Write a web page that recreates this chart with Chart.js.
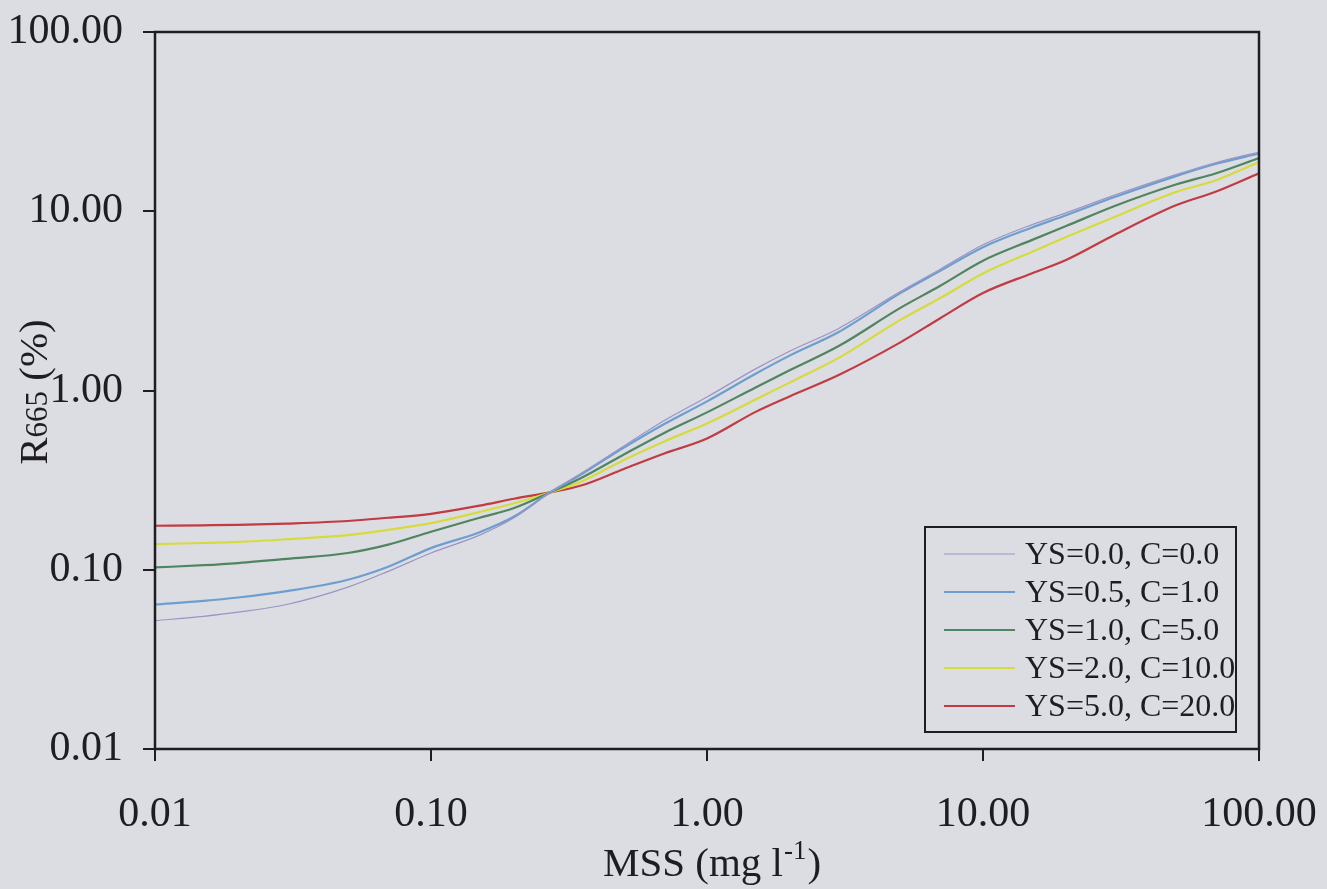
<!DOCTYPE html>
<html>
<head>
<meta charset="utf-8">
<script src="https://cdn.jsdelivr.net/npm/chart.js@4/dist/chart.umd.min.js"></script>
<style>
  html, body { margin: 0; padding: 0; background: #dcdde2; }
  #wrap { width: 1327px; height: 889px; }
</style>
</head>
<body>
<div id="wrap"><canvas id="canvas"></canvas></div>
<script>
// MSS concentration (mg l-1)
const mss = [0.01, 0.015, 0.02, 0.03, 0.05, 0.07, 0.1, 0.15, 0.2, 0.27, 0.35, 0.5, 0.7, 1, 1.5, 2, 3, 5, 7, 10, 15, 20, 30, 50, 70, 100];

// R665 (%) per yellow substance / chlorophyll combination
const ys00c00 = [0.052, 0.055, 0.058, 0.064, 0.080, 0.098, 0.124, 0.156, 0.195, 0.27, 0.345, 0.49, 0.68, 0.92, 1.32, 1.66, 2.22, 3.55, 4.75, 6.5, 8.4, 9.8, 12.3, 16.0, 18.7, 21.4];
const ys05c10 = [0.064, 0.067, 0.070, 0.076, 0.088, 0.104, 0.132, 0.162, 0.198, 0.27, 0.34, 0.48, 0.65, 0.87, 1.24, 1.57, 2.12, 3.48, 4.65, 6.3, 8.1, 9.5, 12.0, 15.7, 18.4, 21.0];
const ys10c50 = [0.103, 0.106, 0.109, 0.115, 0.124, 0.138, 0.163, 0.195, 0.221, 0.27, 0.325, 0.44, 0.58, 0.755, 1.04, 1.30, 1.77, 2.88, 3.84, 5.3, 6.9, 8.27, 10.7, 14.1, 16.3, 19.8];
const ys20c100 = [0.139, 0.141, 0.143, 0.148, 0.156, 0.167, 0.182, 0.21, 0.235, 0.27, 0.31, 0.41, 0.52, 0.655, 0.89, 1.11, 1.52, 2.47, 3.28, 4.5, 5.93, 7.18, 9.3, 12.8, 14.9, 18.8];
const ys50c200 = [0.176, 0.177, 0.178, 0.181, 0.187, 0.195, 0.205, 0.228, 0.249, 0.27, 0.295, 0.365, 0.445, 0.54, 0.76, 0.93, 1.22, 1.85, 2.53, 3.5, 4.5, 5.35, 7.4, 10.8, 12.9, 16.3];

const seriesNames = ['YS=0.0, C=0.0', 'YS=0.5, C=1.0', 'YS=1.0, C=5.0', 'YS=2.0, C=10.0', 'YS=5.0, C=20.0'];
const seriesValues = [ys00c00, ys05c10, ys10c50, ys20c100, ys50c200];
const seriesColors = ['#9c93c4', '#6c9fd0', '#4f8560', '#d6db3c', '#c23a42'];
const seriesWidths = [1.2, 2.2, 2.2, 2.2, 2.2];

const xTicks = [0.01, 0.1, 1, 10, 100];
const xTickLabels = ['0.01', '0.10', '1.00', '10.00', '100.00'];
const yTicks = [0.01, 0.1, 1, 10, 100];
const yTickLabels = ['0.01', '0.10', '1.00', '10.00', '100.00'];

const ink = '#1e1e22';
const serif = '"Liberation Serif", "Times New Roman", serif';

const datasets = seriesNames.map((name, i) => ({
  label: name,
  data: mss.map((x, j) => ({ x: x, y: seriesValues[i][j] })),
  borderColor: seriesColors[i],
  backgroundColor: seriesColors[i],
  borderWidth: seriesWidths[i],
  pointRadius: 0,
  cubicInterpolationMode: 'monotone',
}));

// grey paper, frame, legend box and axis titles with sub/superscripts
const decor = {
  id: 'decor',
  beforeDraw(chart) {
    const ctx = chart.ctx;
    ctx.save();
    ctx.fillStyle = '#dcdde2';
    ctx.fillRect(0, 0, chart.width, chart.height);
    ctx.restore();
  },
  afterDraw(chart) {
    const ctx = chart.ctx;
    const a = chart.chartArea;
    ctx.save();
    ctx.strokeStyle = ink;
    ctx.lineWidth = 2.5;
    ctx.strokeRect(a.left, a.top, a.right - a.left, a.bottom - a.top);

    // legend
    const bx = a.right - 334, by = a.bottom - 222, bw = 311, bh = 205;
    ctx.fillStyle = '#dcdde2';
    ctx.fillRect(bx, by, bw, bh);
    ctx.lineWidth = 2;
    ctx.strokeRect(bx, by, bw, bh);
    ctx.font = '32px ' + serif;
    ctx.textBaseline = 'middle';
    ctx.textAlign = 'left';
    chart.data.datasets.forEach((ds, i) => {
      const y = by + 27 + i * 38;
      ctx.strokeStyle = ds.borderColor;
      ctx.lineWidth = ds.borderWidth;
      ctx.beginPath();
      ctx.moveTo(bx + 19, y);
      ctx.lineTo(bx + 90, y);
      ctx.stroke();
      ctx.fillStyle = ink;
      ctx.fillText(ds.label, bx + 100, y + 2);
    });

    // x title: MSS (mg l^-1)
    ctx.fillStyle = ink;
    ctx.textBaseline = 'alphabetic';
    const big = '41px ' + serif, small = '27px ' + serif;
    ctx.font = big;
    const p1 = 'MSS (mg l', p3 = ')';
    const w1 = ctx.measureText(p1).width, w3 = ctx.measureText(p3).width;
    ctx.font = small;
    const p2 = '-1';
    const w2 = ctx.measureText(p2).width;
    let x0 = (a.left + a.right) / 2 - (w1 + w2 + w3) / 2 + 4;
    const base = 876;
    ctx.font = big; ctx.fillText(p1, x0, base);
    ctx.font = small; ctx.fillText(p2, x0 + w1 + 1, base - 17);
    ctx.font = big; ctx.fillText(p3, x0 + w1 + w2 + 2, base);

    // y title: R665 (%)
    ctx.translate(47, 392);
    ctx.rotate(-Math.PI / 2);
    ctx.font = big;
    const q1 = 'R', q3 = ' (%)';
    const v1 = ctx.measureText(q1).width, v3 = ctx.measureText(q3).width;
    ctx.font = '31px ' + serif;
    const q2 = '665';
    const v2 = ctx.measureText(q2).width;
    let s = -(v1 + v2 + v3) / 2;
    ctx.font = big; ctx.fillText(q1, s, 0);
    ctx.font = '31px ' + serif; ctx.fillText(q2, s + v1, 0);
    ctx.font = big; ctx.fillText(q3, s + v1 + v2, 0);
    ctx.restore();
  }
};

const config = {
  type: 'line',
  data: { datasets: datasets },
  options: {
    responsive: true,
    maintainAspectRatio: false,
    animation: false,
    layout: { padding: { left: 0, right: 68, top: 32, bottom: 0 } },
    plugins: { legend: { display: false }, tooltip: { enabled: false } },
    scales: {
      x: {
        type: 'logarithmic',
        min: 0.01,
        max: 100,
        afterBuildTicks: (scale) => { scale.ticks = xTicks.map(v => ({ value: v })); },
        afterFit: (scale) => {
          scale.height = 140;
          scale.paddingLeft = 0;
          scale.paddingRight = 0;
        },
        border: { display: false },
        grid: { drawOnChartArea: false, drawTicks: true, tickLength: 12, color: ink, lineWidth: 2 },
        ticks: {
          autoSkip: false,
          maxRotation: 0,
          padding: 29,
          color: ink,
          font: { family: serif, size: 42 },
          callback: (v) => xTickLabels[xTicks.indexOf(v)] ?? '',
        },
      },
      y: {
        type: 'logarithmic',
        min: 0.01,
        max: 100,
        afterBuildTicks: (scale) => { scale.ticks = yTicks.map(v => ({ value: v })); },
        afterFit: (scale) => {
          scale.width = 155;
          scale.paddingTop = 0;
          scale.paddingBottom = 0;
        },
        border: { display: false },
        grid: { drawOnChartArea: false, drawTicks: true, tickLength: 12, color: ink, lineWidth: 2 },
        ticks: {
          autoSkip: false,
          padding: 20,
          color: ink,
          font: { family: serif, size: 42 },
          callback: (v) => yTickLabels[yTicks.indexOf(v)] ?? '',
        },
      },
    },
  },
  plugins: [decor],
};

const canvas = document.getElementById('canvas');
const chart = new Chart(canvas, config);
</script>
</body>
</html>
